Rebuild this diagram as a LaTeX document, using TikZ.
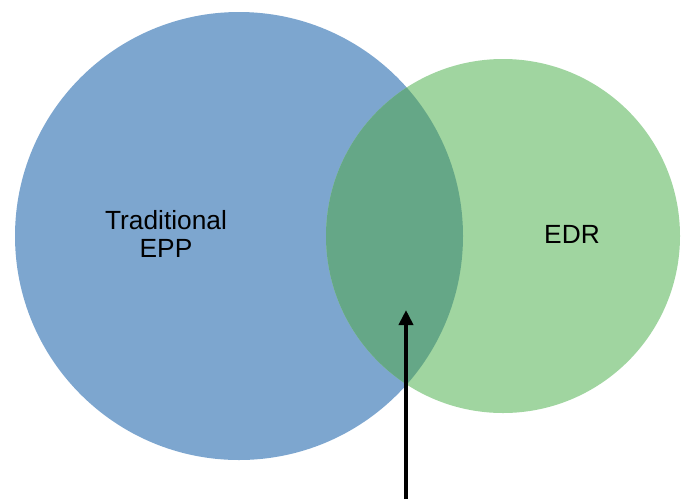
\documentclass[tikz,border=0pt]{standalone}
\usepackage{fontspec}
\setmainfont{Liberation Sans}
\usetikzlibrary{arrows.meta}
\definecolor{eppblue}{RGB}{125,166,207}
\definecolor{edrgreen}{RGB}{160,213,160}
\definecolor{bothgreen}{RGB}{101,167,135}
\tikzset{
  setlabel/.style={font=\fontsize{26.3}{28.5}\selectfont, align=center, text=black, inner sep=0pt},
  pointer/.style={line width=4pt, -{Triangle[width=14pt,length=15pt]}}
}
\begin{document}
\begin{tikzpicture}[x=1pt,y=-1pt]
  \useasboundingbox (0,0) rectangle (687,499);
  % the two sets
  \fill[eppblue] (239,236) circle (224);
  \fill[edrgreen] (503,236) circle (177);
  % their intersection
  \begin{scope}
    \clip (239,236) circle (224);
    \fill[bothgreen] (503,236) circle (177);
  \end{scope}
  % labels
  \node[setlabel] (epp) at (166,234) {Traditional\\EPP};
  \node[setlabel] (edr) at (572,234) {EDR};
  % arrow pointing into the overlap
  \coordinate (tail) at (406,499);
  \coordinate (tip) at (406,310);
  \draw[pointer] (tail) -- (tip);
\end{tikzpicture}
\end{document}
